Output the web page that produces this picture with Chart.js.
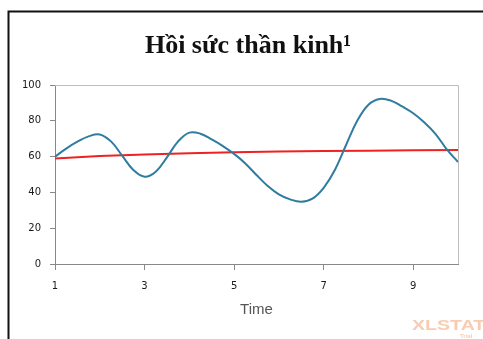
<!DOCTYPE html>
<html>
<head>
<meta charset="utf-8">
<script src="https://cdn.jsdelivr.net/npm/chart.js@4/dist/chart.umd.min.js"></script>
<style>
  html, body { margin: 0; padding: 0; background: #ffffff; }
  #wrap { width: 483px; height: 339px; position: relative; }
</style>
</head>
<body>
<div id="wrap"><canvas id="c" width="483" height="339"></canvas></div>
<script>
const chartTitle = 'Hồi sức thần kinh¹';
const xAxisTitle = 'Time';
const xTickValues = [1, 3, 5, 7, 9];
const yTickValues = [0, 20, 40, 60, 80, 100];

const blueTimes = [1, 1.25, 1.5, 1.75, 2, 2.25, 2.5, 2.75, 3, 3.25, 3.5, 3.75,
  4, 4.25, 4.5, 4.75, 5, 5.25, 5.5, 5.75, 6, 6.25, 6.5, 6.75, 7, 7.25, 7.5, 7.75,
  8, 8.25, 8.5, 8.75, 9, 9.25, 9.5, 9.75, 10];
const blueValues = [60, 64.5, 68.3, 71.3, 72.4, 68.5, 60.5, 52.5, 48.8, 51.6, 59.6, 68.5,
  73.4, 72.8, 69.6, 65.9, 61.5, 56.2, 49.7, 43.6, 38.9, 36.1, 34.8, 36.5, 42.5, 52.5, 66.5, 80,
  89, 92.2, 91.3, 88, 84.2, 79, 72.6, 64, 57];

const redTimes = [1, 2, 3, 4, 5, 6, 7, 8, 9, 10];
const redValues = [59, 60.3, 61.2, 61.9, 62.4, 62.8, 63.1, 63.3, 63.5, 63.7];

const toPoints = (xs, ys) => xs.map((x, i) => ({ x: x, y: ys[i] }));

const decorPlugin = {
  id: 'decor',
  beforeDraw(chart) {
    const ctx = chart.ctx;
    ctx.save();
    ctx.fillStyle = '#ffffff';
    ctx.fillRect(0, 0, chart.width, chart.height);
    ctx.restore();
  },
  afterDraw(chart) {
    const ctx = chart.ctx;
    const a = chart.chartArea;
    ctx.save();
    // outer black frame (left and top)
    ctx.strokeStyle = '#111111';
    ctx.lineWidth = 2;
    ctx.beginPath();
    ctx.moveTo(8.5, chart.height);
    ctx.lineTo(8.5, 11.5);
    ctx.lineTo(chart.width, 11.5);
    ctx.stroke();
    // light frame top and right of plot area
    ctx.strokeStyle = '#bdbdbd';
    ctx.lineWidth = 1;
    ctx.beginPath();
    ctx.moveTo(a.left, a.top + 0.5);
    ctx.lineTo(a.right + 0.5, a.top + 0.5);
    ctx.lineTo(a.right + 0.5, a.bottom);
    ctx.stroke();
    // title
    ctx.fillStyle = '#111111';
    ctx.font = 'bold 26px "Liberation Serif", "Times New Roman", serif';
    ctx.textAlign = 'center';
    ctx.textBaseline = 'alphabetic';
    ctx.fillText(chartTitle, 248, 53);
    // watermark
    ctx.globalAlpha = 0.55;
    ctx.fillStyle = '#f4a070';
    ctx.font = 'bold 14px "Liberation Sans", Arial, sans-serif';
    ctx.textAlign = 'left';
    ctx.translate(412, 330);
    ctx.scale(1.4, 1);
    ctx.fillText('XLSTAT', 0, 0);
    ctx.setTransform(1, 0, 0, 1, 0, 0);
    ctx.font = 'bold 6px "Liberation Sans", Arial, sans-serif';
    ctx.fillText('Trial', 460, 338);
    ctx.restore();
  }
};

new Chart(document.getElementById('c'), {
  type: 'line',
  data: {
    datasets: [
      {
        label: 'Series 1',
        data: toPoints(blueTimes, blueValues),
        borderColor: '#2e7ca0',
        borderWidth: 2,
        pointRadius: 0,
        fill: false,
        tension: 0.4
      },
      {
        label: 'Series 2',
        data: toPoints(redTimes, redValues),
        borderColor: '#ee2222',
        borderWidth: 2,
        pointRadius: 0,
        fill: false,
        tension: 0
      }
    ]
  },
  options: {
    responsive: false,
    animation: false,
    devicePixelRatio: 1,
    layout: { padding: { left: 0, right: 25, top: 85, bottom: 0 } },
    plugins: {
      legend: { display: false },
      title: { display: false },
      tooltip: { enabled: false }
    },
    scales: {
      x: {
        type: 'linear',
        min: 1,
        max: 10,
        afterBuildTicks(scale) { scale.ticks = xTickValues.map(v => ({ value: v })); },
        afterFit(scale) { scale.height = 75; },
        border: { display: true, color: '#888888', width: 1 },
        grid: { drawOnChartArea: false, drawTicks: true, tickLength: 6, color: '#888888' },
        ticks: {
          color: '#1a1a1a',
          padding: 10,
          maxRotation: 0,
          autoSkip: false,
          font: { family: '"DejaVu Sans", sans-serif', size: 10 }
        },
        title: {
          display: true,
          text: xAxisTitle,
          color: '#555555',
          font: { family: '"Liberation Sans", Arial, sans-serif', size: 15 },
          padding: { top: 0, bottom: 20 }
        }
      },
      y: {
        type: 'linear',
        min: 0,
        max: 100,
        afterBuildTicks(scale) { scale.ticks = yTickValues.map(v => ({ value: v })); },
        afterFit(scale) { scale.width = 55; },
        border: { display: true, color: '#888888', width: 1 },
        grid: { drawOnChartArea: false, drawTicks: true, tickLength: 5, color: '#888888' },
        ticks: {
          color: '#1a1a1a',
          padding: 9,
          font: { family: '"DejaVu Sans", sans-serif', size: 10 }
        }
      }
    }
  },
  plugins: [decorPlugin]
});
</script>
</body>
</html>
